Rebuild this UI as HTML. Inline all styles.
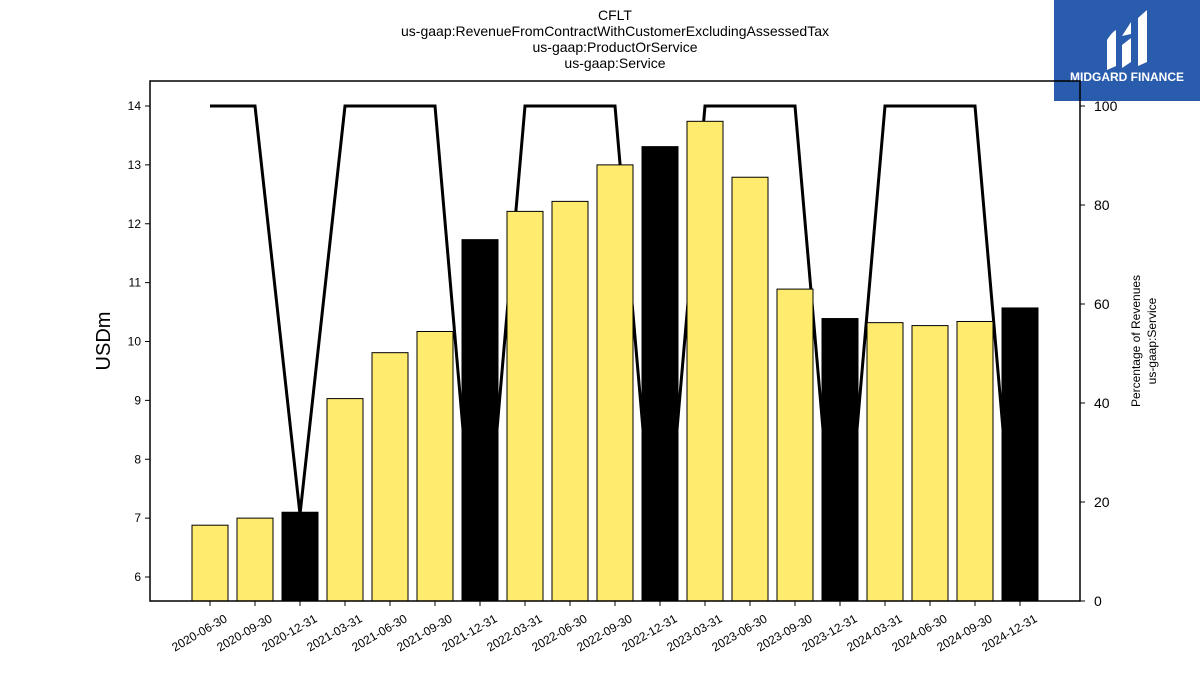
<!DOCTYPE html>
<html><head><meta charset="utf-8"><style>
body{margin:0;background:#fff;font-family:"Liberation Sans",sans-serif}
svg{display:block}
</style></head><body>
<svg id="c" width="1200" height="675" xmlns="http://www.w3.org/2000/svg" font-family="Liberation Sans, sans-serif">
<g font-size="14" text-anchor="middle" fill="#000">
<text x="615" y="20">CFLT</text>
<text x="615" y="36">us-gaap:RevenueFromContractWithCustomerExcludingAssessedTax</text>
<text x="615" y="52">us-gaap:ProductOrService</text>
<text x="615" y="68">us-gaap:Service</text>
</g>
<g>
<rect x="1054" y="0" width="146" height="101" fill="#2a5cad"/>
<path d="M1107 70 L1107 40 Q1112 32 1116 30 L1116 66 Z" fill="#fff"/>
<path d="M1122 68 L1122 45 L1131 38 L1131 62 Z" fill="#fff"/>
<path d="M1122 36 L1131 22 L1131 34 Z" fill="#fff"/>
<path d="M1138 66 L1138 18 L1147 10 L1147 62 Z" fill="#fff"/>
<text x="1127" y="81" font-size="12" font-weight="bold" fill="#fff" text-anchor="middle">MIDGARD FINANCE</text>
</g>
<g id="plot"></g>
<text x="110" y="341" font-size="20" text-anchor="middle" transform="rotate(-90 110 341)">USDm</text>
<g font-size="12" text-anchor="middle">
<text x="1140" y="341" transform="rotate(-90 1140 341)">Percentage of Revenues</text>
<text x="1156" y="341" transform="rotate(-90 1156 341)">us-gaap:Service</text>
</g>
</svg>
<script>
const categories=["2020-06-30","2020-09-30","2020-12-31","2021-03-31","2021-06-30","2021-09-30","2021-12-31","2022-03-31","2022-06-30","2022-09-30","2022-12-31","2023-03-31","2023-06-30","2023-09-30","2023-12-31","2024-03-31","2024-06-30","2024-09-30","2024-12-31"];
const revenues=[6.88,7.0,7.1,9.03,9.81,10.17,11.73,12.21,12.38,13.0,13.31,13.74,12.79,10.89,10.39,10.32,10.27,10.34,10.57];
const isAnnual=[0,0,1,0,0,0,1,0,0,0,1,0,0,0,1,0,0,0,1];
const percentages=[100,100,17.5,100,100,100,-5,100,100,100,-5,100,100,100,-5,100,100,100,-5];
const leftTicks=[6,7,8,9,10,11,12,13,14];
const rightTicks=[0,20,40,60,80,100];
const NS="http://www.w3.org/2000/svg";
const L=150,R=1080,T=81,B=601;
const yL=v=>577-(v-6)*58.875;
const yR=v=>601-v*4.95;
const xC=i=>210+i*45;
const g=document.getElementById('plot');
function mk(t,a,p){const e=document.createElementNS(NS,t);for(const k in a)e.setAttribute(k,a[k]);(p||g).appendChild(e);return e;}
const defs=mk('defs',{});const cp=mk('clipPath',{id:'cl'},defs);mk('rect',{x:L,y:T,width:R-L,height:B-T},cp);
// line
let d=percentages.map((v,i)=>(i?'L':'M')+xC(i)+' '+yR(v)).join(' ');
const line=mk('path',{d:d,fill:'none',stroke:'#000','stroke-width':3,'clip-path':'url(#cl)'});


revenues.forEach((v,i)=>{
 const r=mk('rect',{x:xC(i)-18,y:yL(v),width:36,height:B-yL(v),fill:isAnnual[i]?'#000':'#ffeb6e',stroke:'#000','stroke-width':1});
 
 
 const tk=mk('line',{x1:xC(i),x2:xC(i),y1:B,y2:B+5,stroke:'#000'});
 const t=mk('text',{x:xC(i)+18,y:B+20,'font-size':12,'text-anchor':'end',transform:`rotate(-30 ${xC(i)+18} ${B+20})`});
 t.textContent=categories[i];
 
 
});
leftTicks.forEach(v=>{
 mk('line',{x1:L-5,x2:L,y1:yL(v),y2:yL(v),stroke:'#000'});
 const t=mk('text',{x:L-9,y:yL(v)+4,'font-size':12,'text-anchor':'end'});t.textContent=v;
 
 
});
rightTicks.forEach(v=>{
 mk('line',{x1:R,x2:R+5,y1:yR(v),y2:yR(v),stroke:'#000'});
 const t=mk('text',{x:R+14,y:yR(v)+5,'font-size':14});t.textContent=v;
 
 
});
const fr=mk('rect',{x:L,y:T,width:R-L,height:B-T,fill:'none',stroke:'#000','stroke-width':1.5});


</script>
</body></html>
